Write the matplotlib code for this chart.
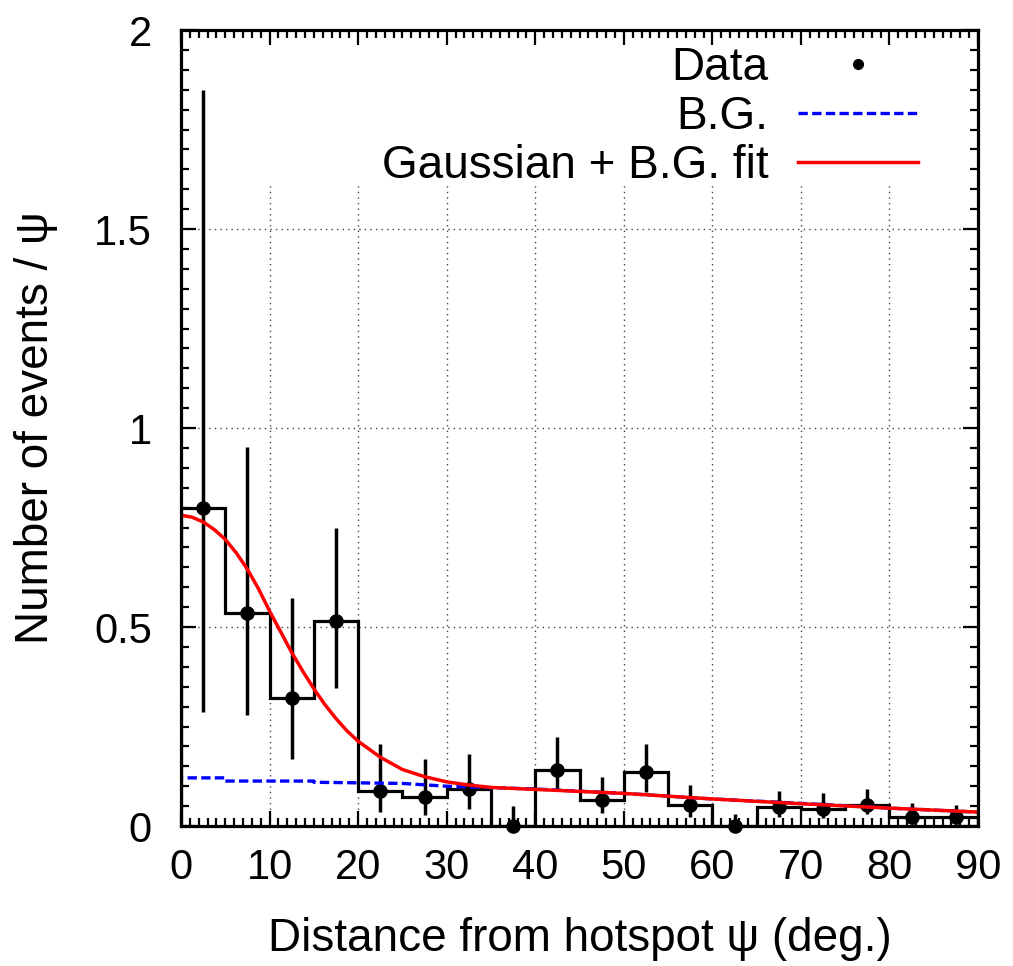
import matplotlib
matplotlib.use("Agg")
import matplotlib.pyplot as plt
from matplotlib.ticker import MultipleLocator
from matplotlib.patches import Rectangle
from matplotlib.lines import Line2D
import numpy as np

# Histogram bins (deg.) and measured values
bin_edges = [0, 5, 10, 15, 20, 25, 30, 35, 40, 45, 50, 55, 60, 65, 70, 75, 80, 85, 90]
bin_centers = [2.5, 7.5, 12.5, 17.5, 22.5, 27.5, 32.5, 37.5, 42.5, 47.5,
               52.5, 57.5, 62.5, 67.5, 72.5, 77.5, 82.5, 87.5]
counts = [0.800, 0.534, 0.321, 0.516, 0.089, 0.074, 0.092, 0.000, 0.142,
          0.065, 0.135, 0.053, 0.000, 0.047, 0.042, 0.053, 0.023, 0.022]
err_top = [1.849, 0.952, 0.572, 0.748, 0.205, 0.168, 0.181, 0.050, 0.224,
           0.123, 0.206, 0.103, 0.030, 0.088, 0.083, 0.093, 0.058, 0.053]
err_bottom = [0.286, 0.279, 0.168, 0.348, 0.034, 0.028, 0.043, 0.000, 0.090,
              0.033, 0.086, 0.023, 0.000, 0.022, 0.020, 0.029, 0.005, 0.005]

# Background estimate
bg_x = [0, 0, 5, 5, 15, 15, 25, 30, 40, 50, 60, 70, 80, 90]
bg_y = [0.0, 0.121, 0.121, 0.113, 0.113, 0.110, 0.107, 0.100, 0.093,
        0.082, 0.068, 0.057, 0.045, 0.035]

# Gaussian + background fit
fit_x = [0, 1.25, 2.5, 3.75, 5, 6.25, 7.5, 8.75, 10, 11.25, 12.5, 13.75, 15,
         16.25, 17.5, 18.75, 20, 22.5, 25, 27.5, 30, 32.5, 35, 40, 50, 60,
         70, 80, 90]
fit_y = [0.781, 0.776, 0.764, 0.745, 0.720, 0.686, 0.645, 0.596, 0.540,
         0.488, 0.436, 0.389, 0.345, 0.305, 0.270, 0.239, 0.213, 0.173,
         0.142, 0.124, 0.111, 0.103, 0.097, 0.092, 0.082, 0.068, 0.056,
         0.045, 0.035]

plt.rcParams['font.family'] = ['Liberation Sans', 'DejaVu Sans']

fig = plt.figure(figsize=(10.13, 9.66), dpi=100)
ax = fig.add_axes([0.1787, 0.1449, 0.7868, 0.8240])

ax.set_xlim(0, 90)
ax.set_ylim(0, 2)

# dotted grid; vertical lines stop under the key area
grid_style = dict(color="#444444", linestyle=(0, (1, 3)), linewidth=1.0, zorder=0)
for gx in range(10, 90, 10):
    ax.plot([gx, gx], [0, 1.618], **grid_style)
for gy in [0.5, 1.0, 1.5]:
    ax.plot([0, 90], [gy, gy], **grid_style)

ax.add_patch(Rectangle((0, 0.809), 1, 0.191, transform=ax.transAxes,
                       facecolor="white", edgecolor="none", zorder=0.5))

ax.stairs(counts, bin_edges, color="black", linewidth=2.3, zorder=3)

yerr = [np.array(counts) - np.array(err_bottom), np.array(err_top) - np.array(counts)]
ax.errorbar(bin_centers, counts, yerr=yerr, fmt="o", color="black",
            markersize=9.5, elinewidth=2.5, capsize=0, zorder=4, clip_on=False)

bg_line, = ax.plot(bg_x, bg_y, color="blue", linestyle=(0, (2.8, 1.3)),
                   linewidth=2.4, zorder=5)
fit_line, = ax.plot(fit_x, fit_y, color="red", linewidth=2.5, zorder=6)

ax.xaxis.set_major_locator(MultipleLocator(10))
ax.xaxis.set_minor_locator(MultipleLocator(1))
ax.yaxis.set_major_locator(MultipleLocator(0.5))
ax.yaxis.set_minor_locator(MultipleLocator(0.05))
ax.set_yticks([0, 0.5, 1, 1.5, 2])
ax.set_yticklabels(["0", "0.5", "1", "1.5", "2"])

ax.tick_params(which="both", direction="in", top=True, right=True,
               width=1.6, labelsize=30)
ax.tick_params(which="major", length=11)
ax.tick_params(which="minor", length=5.5)
ax.tick_params(axis="x", pad=16)
ax.tick_params(axis="y", pad=21)

for sp in ax.spines.values():
    sp.set_linewidth(2.3)
    sp.set_zorder(10)

ax.set_xlabel("Distance from hotspot ψ (deg.)", fontsize=33)
ax.set_ylabel("Number of events / ψ", fontsize=33)
ax.xaxis.set_label_coords(0.5, -0.114)
ax.yaxis.set_label_coords(-0.154, 0.5)

data_handle = Line2D([], [], color="black", marker="o", markersize=7, linestyle="none")
leg = ax.legend([data_handle, bg_line, fit_line],
                ["Data", "B.G.", "Gaussian + B.G. fit"],
                loc="upper right", bbox_to_anchor=(0.925, 0.98),
                frameon=False, fontsize=33, markerfirst=False, handlelength=2.62,
                handletextpad=0.65, labelspacing=0.11, borderaxespad=0.0,
                borderpad=0.0)
leg.set_zorder(20)

fig.savefig("out.png", dpi=100)
